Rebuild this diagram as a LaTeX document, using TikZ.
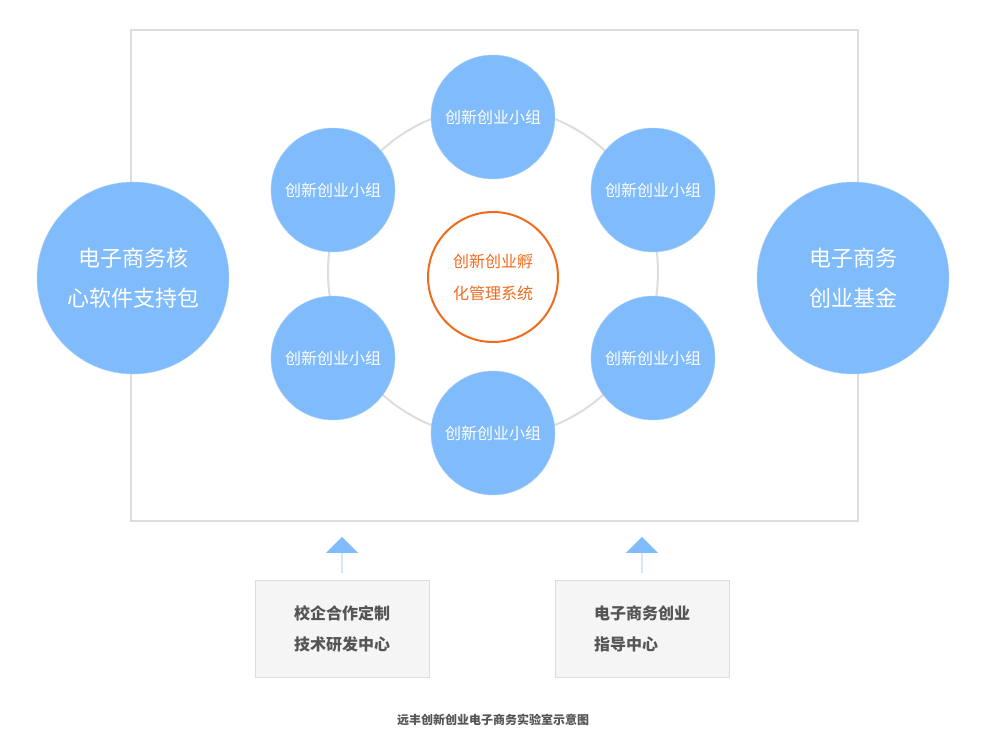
\documentclass[tikz,border=0pt]{standalone}
\usepackage{fontspec}
\newfontfamily\cjk{Noto Sans CJK SC}
\usetikzlibrary{shapes.arrows}
\definecolor{cblue}{HTML}{80BBFB}
\definecolor{cborder}{HTML}{A9D0FB}
\definecolor{corange}{HTML}{F26B1D}
\definecolor{cgray}{HTML}{DDDDDD}
\definecolor{ctext}{HTML}{555555}
\tikzset{
 small/.style={circle,fill=cblue,draw=cborder,minimum size=124pt,inner sep=0pt,text=white,font=\cjk\fontsize{16}{16}\selectfont},
 big/.style={circle,fill=cblue,draw=cborder,minimum size=192pt,inner sep=0pt,text=white,align=center,font=\cjk\fontsize{22}{40}\selectfont},
 infobox/.style={rectangle,fill=black!4,draw=cgray,minimum width=174pt,minimum height=97pt,text=ctext,align=left,font=\cjk\bfseries\fontsize{16}{31}\selectfont},
 uparrow/.style={single arrow,fill=cblue,rotate=90,minimum height=36pt,minimum width=32pt,single arrow head extend=8pt,inner sep=0pt,single arrow tip angle=90}
}
\begin{document}
\begin{tikzpicture}[x=1pt,y=-1pt]
\useasboundingbox (0,0) rectangle (991,749);
\node[draw=cgray,line width=1.5pt,minimum width=727pt,minimum height=491pt,inner sep=0pt] (frame) at (494.5,275.5) {};
\draw[cgray,line width=2pt] (493,272) circle (165);
\node[big] (L) at (133,278) {电子商务核\\心软件支持包};
\node[big] (R) at (853,278) {电子商务\\创业基金};
\node[small] (s1) at (493,117) {创新创业小组};
\node[small] (s2) at (333,190) {创新创业小组};
\node[small] (s3) at (653,190) {创新创业小组};
\node[small] (s4) at (333,358) {创新创业小组};
\node[small] (s5) at (653,358) {创新创业小组};
\node[small] (s6) at (493,433) {创新创业小组};
\node[circle,draw=corange,line width=2pt,fill=white,minimum size=130pt,text=corange,align=center,font=\cjk\fontsize{16}{32}\selectfont] (c) at (493,277) {创新创业孵\\化管理系统};
\node[infobox] (b1) at (342,628.5) {校企合作定制\\技术研发中心};
\node[infobox] (b2) at (642,628.5) {电子商务创业\\指导中心\phantom{创业}};
\node[uparrow] (a1) at (342,555) {};
\node[uparrow] (a2) at (642,555) {};
\node[text=ctext,font=\cjk\bfseries\fontsize{12}{12}\selectfont] (cap) at (493,720) {远丰创新创业电子商务实验室示意图};
\end{tikzpicture}
\end{document}
